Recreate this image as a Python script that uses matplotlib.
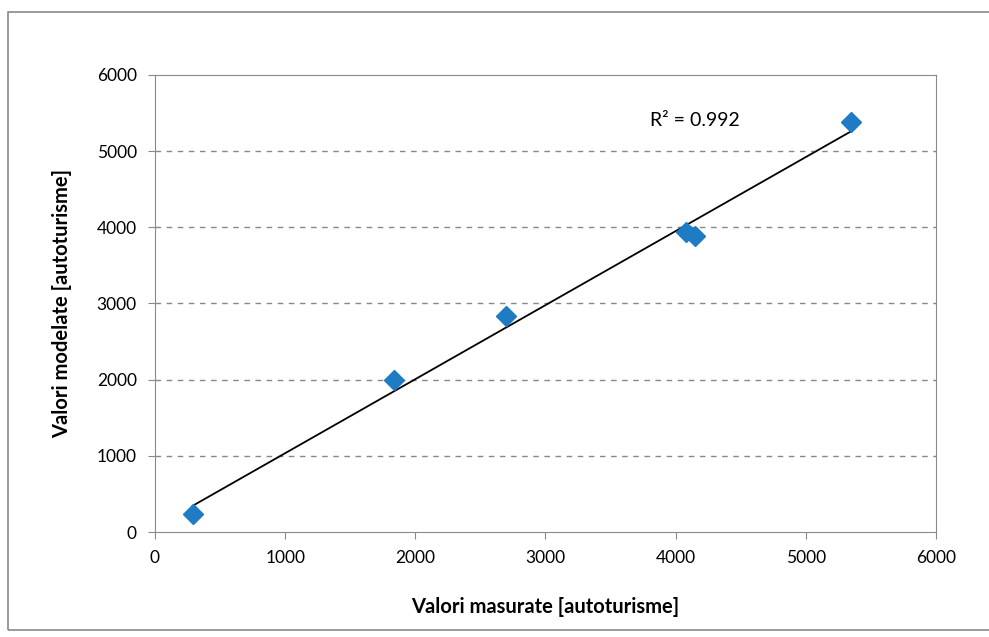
import matplotlib
matplotlib.use("Agg")
import matplotlib.pyplot as plt
import numpy as np
from matplotlib.patches import Rectangle

# measured vs modelled values (cars)
measured = [290, 1840, 2700, 4080, 4150, 5350]
modelled = [240, 2000, 2830, 3940, 3880, 5380]
r2_label = "R² = 0.992"
ticks = [0, 1000, 2000, 3000, 4000, 5000, 6000]

plt.rcParams.update({"font.family": ["Lato", "DejaVu Sans"], "font.size": 12})

fig = plt.figure(figsize=(9.89, 6.37), dpi=100)
ax = fig.add_axes([0.1567, 0.1648, 0.7897, 0.7175])

# chart outer frame
fig.patches.append(Rectangle((8 / 989, 7 / 637), 1.2, 618 / 637, transform=fig.transFigure,
                             fill=False, ec="#8a8a8a", lw=1.2))

x = np.array(measured)
y = np.array(modelled)
k, b = np.polyfit(x, y, 1)
xs = np.array([x.min(), x.max()])
ax.plot(xs, k * xs + b, color="black", lw=1.3, zorder=2)
ax.plot(x, y, ls="none", marker="D", ms=10, color="#1f7bc4", zorder=3)

ax.set_xlim(0, 6000)
ax.set_ylim(0, 6000)
ax.set_xticks(ticks)
ax.set_yticks(ticks)
for t in ticks[1:-1]:
    ax.axhline(t, color="#888888", lw=1, ls=(0, (4, 4)), zorder=1)

for s in ax.spines.values():
    s.set_color("#8a8a8a")
ax.tick_params(direction="out", length=5, color="#8a8a8a", labelsize=12.5, pad=8)

ax.text(3800, 5400, r2_label, fontsize=14, va="center", ha="left")
ax.set_xlabel("Valori masurate [autoturisme]", fontsize=14.5, fontweight="bold", labelpad=22)
ax.set_ylabel("Valori modelate [autoturisme]", fontsize=14.5, fontweight="bold", labelpad=18)

fig.savefig("out.png", dpi=100)
